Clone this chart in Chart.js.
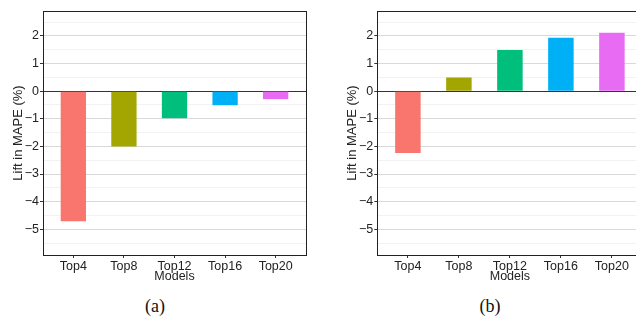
<!DOCTYPE html>
<html>
<head>
<meta charset="utf-8">
<script src="https://cdn.jsdelivr.net/npm/chart.js@4.4.1/dist/chart.umd.min.js"></script>
<style>
  html, body { margin: 0; padding: 0; background: #fff; overflow: hidden; }
  body { width: 636px; height: 320px; position: relative; }
  canvas { position: absolute; top: 0; }
  .cap { position: absolute; top: 296px; width: 60px; margin-left: -30px; text-align: center;
         font-family: "Liberation Serif", serif; font-size: 18px; color: #111; }
</style>
</head>
<body>
<canvas id="chartA" width="318" height="290" style="left:0"></canvas>
<canvas id="chartB" width="320" height="290" style="left:334px"></canvas>
<div class="cap" style="left:155px">(a)</div>
<div class="cap" style="left:490px">(b)</div>
<script>
const categories = ['Top4', 'Top8', 'Top12', 'Top16', 'Top20'];
const liftA = [-4.71, -2.0, -0.98, -0.51, -0.29];
const liftB = [-2.24, 0.49, 1.49, 1.93, 2.11];
const barColors = ['#F8766D', '#A3A500', '#00BF7D', '#00B0F6', '#E76BF3'];
const yTitle = 'Lift in MAPE (%)';
const xTitle = 'Models';

const font = { family: '"Liberation Sans", Arial, sans-serif', size: 12.5 };
const titleFont = { family: '"Liberation Sans", Arial, sans-serif', size: 13 };

// box round the panel, like ggplot's panel border
const panelBorder = {
    id: 'panelBorder',
    afterDatasetsDraw(chart) {
        const a = chart.chartArea;
        const ctx = chart.ctx;
        ctx.save();
        ctx.strokeStyle = '#222';
        ctx.lineWidth = 1;
        ctx.strokeRect(Math.round(a.left) + 0.5, Math.round(a.top) + 0.5,
            Math.round(a.right - a.left), Math.round(a.bottom - a.top));
        ctx.restore();
    }
};

function makeChart(id, values, yWidth, pad) {
    const ctx = document.getElementById(id).getContext('2d');
    return new Chart(ctx, {
        type: 'bar',
        data: {
            datasets: [{
                data: values.map((v, i) => ({ x: i + 1, y: v })),
                backgroundColor: barColors,
                borderWidth: 0,
                barPercentage: 0.5,
                categoryPercentage: 1
            }]
        },
        options: {
            responsive: false,
            animation: false,
            layout: { padding: pad },
            plugins: { legend: { display: false }, tooltip: { enabled: false } },
            scales: {
                x: {
                    type: 'linear',
                    min: 0.4,
                    max: 5.6,
                    offset: false,
                    afterFit: s => { s.height = 35; },
                    border: { display: false },
                    grid: { offset: false, drawOnChartArea: false, tickLength: 3, tickColor: '#333' },
                    ticks: {
                        stepSize: 1,
                        includeBounds: false,
                        padding: 1,
                        maxRotation: 0,
                        color: '#222',
                        font: font,
                        callback: v => categories[v - 1] || ''
                    },
                    title: {
                        display: true,
                        text: xTitle,
                        color: '#222',
                        font: font,
                        padding: { top: 0, bottom: 6 }
                    }
                },
                y: {
                    min: -5.93,
                    max: 2.9,
                    afterFit: s => { s.width = yWidth; },
                    border: { display: false },
                    grid: {
                        tickLength: 3,
                        lineWidth: 1,
                        color: c => {
                            const v = c.tick.value;
                            if (v === 0) return '#333';
                            return Number.isInteger(v) ? '#d9d9d9' : '#f2f2f2';
                        },
                        tickColor: c => Number.isInteger(c.tick.value) ? '#333' : 'rgba(0,0,0,0)'
                    },
                    ticks: {
                        stepSize: 0.5,
                        includeBounds: false,
                        autoSkip: false,
                        padding: 1,
                        color: '#222',
                        font: font,
                        callback: v => Number.isInteger(v) ? String(v).replace('-', '\u2212') : ''
                    },
                    title: {
                        display: true,
                        text: yTitle,
                        color: '#222',
                        font: titleFont,
                        padding: { top: 10.8, bottom: 0 }
                    }
                }
            }
        },
        plugins: [panelBorder]
    });
}

makeChart('chartA', liftA, 43, { top: 11, right: 12, left: 0, bottom: 0 });
makeChart('chartB', liftB, 43.3, { top: 11, right: 11.5, left: 0, bottom: 0 });
</script>
</body>
</html>
